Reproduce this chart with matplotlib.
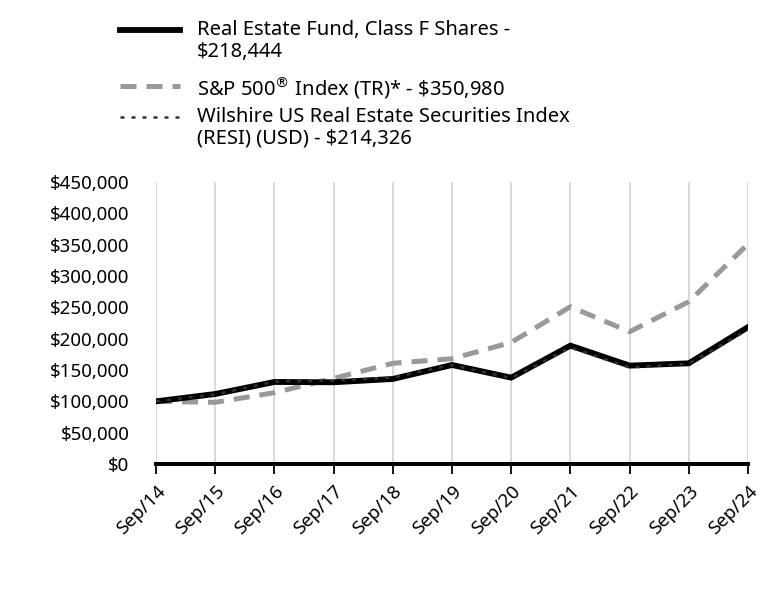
import matplotlib
matplotlib.use("Agg")
import matplotlib.pyplot as plt
from matplotlib.lines import Line2D
from matplotlib.ticker import FuncFormatter

plt.rcParams['font.family'] = ['Noto Sans', 'DejaVu Sans']

dates = ["Sep/14", "Sep/15", "Sep/16", "Sep/17", "Sep/18", "Sep/19",
         "Sep/20", "Sep/21", "Sep/22", "Sep/23", "Sep/24"]
fund = [100000, 111700, 130900, 130400, 135700, 158000, 137800, 188900, 157000, 160700, 218444]
sp500 = [100000, 98400, 113800, 136700, 160700, 168000, 194000, 251000, 211000, 259000, 350980]
resi = [100000, 111000, 131500, 133000, 138000, 158000, 137000, 186000, 154000, 160000, 214326]

labels = ["Real Estate Fund, Class F Shares -\n$218,444",
          r"S&P 500$^{\circledR}$ Index (TR)* - \$350,980",
          "Wilshire US Real Estate Securities Index\n(RESI) (USD) - $214,326"]

W, H = 768, 612
fig = plt.figure(figsize=(W / 100, H / 100), dpi=100)
ax = fig.add_axes([156 / W, 1 - 464 / H, (748 - 156) / W, (464 - 182) / H])

x = list(range(len(dates)))
styles = [
    dict(color="black", lw=4.2, solid_joinstyle="miter", zorder=4),
    dict(color="#999999", lw=3.6, dashes=(3.2, 2.0), dash_capstyle="butt", zorder=3),
    dict(color="#333333", lw=1.8, dashes=(1.6, 2.8), dash_capstyle="butt", zorder=5),
]
series = [fund, sp500, resi]
for s, st in zip(series, styles):
    ax.plot(x, s, **st)

ax.set_xlim(0, 10)
ax.set_ylim(0, 450000)
ax.set_yticks(range(0, 450001, 50000))
ax.yaxis.set_major_formatter(FuncFormatter(lambda v, p: "${:,.0f}".format(v)))
ax.set_xticks(x)
ax.set_xticklabels(dates, rotation=45, ha="right", rotation_mode="anchor")
ax.grid(axis="x", color="#d9d9d9", lw=1.4)
ax.set_axisbelow(True)
for sp in ["top", "right", "left"]:
    ax.spines[sp].set_visible(False)
ax.spines["bottom"].set_linewidth(2.9)
ax.spines["bottom"].set_color("black")
ax.tick_params(axis="y", length=0, labelsize=13.5, pad=19)
ax.tick_params(axis="x", length=7, width=1.3, color="black", labelsize=13.5, pad=6)

# legend drawn manually (handles aligned with first text line)
leg_y = [30, 86, 117]
for yy, st, lab in zip(leg_y, styles, labels):
    st2 = {k: v for k, v in st.items() if k != "zorder"}
    fig.add_artist(Line2D([120 / W, 180 / W], [1 - yy / H, 1 - yy / H],
                          transform=fig.transFigure, **st2))
    fig.text(197 / W, 1 - (yy - 10) / H, lab, fontsize=14.5, va="top", ha="left",
             linespacing=1.12)

fig.savefig("out.png", dpi=100)
